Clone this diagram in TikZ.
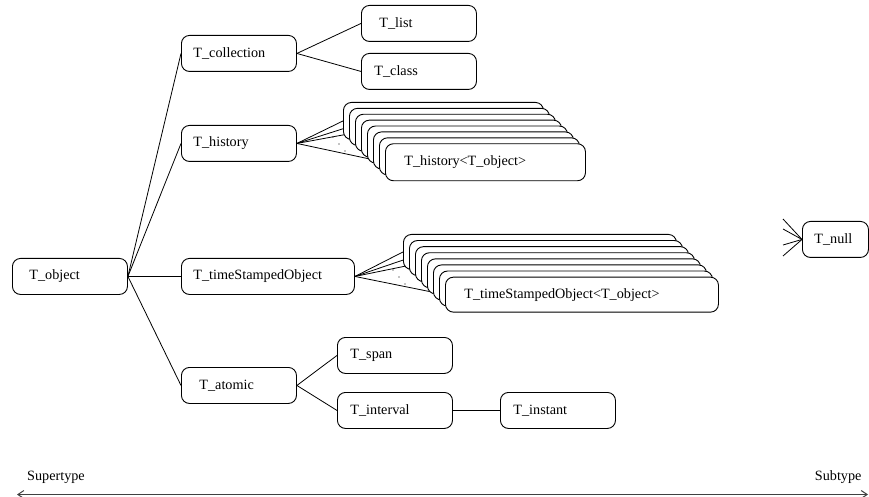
\documentclass[tikz,border=0pt]{standalone}
\usepackage{fontspec}
\setmainfont{Liberation Serif}
\usetikzlibrary{arrows.meta, backgrounds}

\begin{document}
\begin{tikzpicture}[
                x=1bp, y=-1bp,
                font=\fontsize{14.2bp}{17bp}\selectfont,
                typebox/.style 2 args={rectangle, draw=black, fill=white, rounded corners=8bp, anchor=north west, minimum height=36bp, align=left, text width=#1bp, inner xsep=#2bp, line width=0.9bp},
                link/.style={line width=0.8bp},
                typescale/.style={{Straight Barb[length=6bp, width=8bp]}-{Straight Barb[length=6bp, width=8bp]}, line width=1bp, black!75}
                ]
                \useasboundingbox (0,0) rectangle (869,497);

                % Types - left to right
                \node[typebox={81}{17}] (object) at (12,258) {T\_object};
                \node[typebox={91}{12}] (collection) at (181,35) {T\_collection};
                \node[typebox={79}{18}] (list) at (361,5) {T\_list};
                \node[typebox={89}{13}] (class) at (361,53) {T\_class};
                \node[typebox={91}{12}] (history) at (181,125) {T\_history};
                \node[typebox={149}{12}] (stamped) at (181,258) {T\_timeStampedObject};
                \node[typebox={79}{18}] (atomic) at (181,367) {T\_atomic};
                \node[typebox={89}{13}] (span) at (337,337) {T\_span};
                \node[typebox={89}{13}] (interval) at (337,392) {T\_interval};
                \node[typebox={89}{13}] (instant) at (500,392) {T\_instant};
                \node[typebox={42}{12}] (null) at (802,221) {T\_null};

                % Stacked instances
                \foreach \i in {1,...,7}
                    \node[typebox={162}{19}, minimum height=37bp] (hist\i) at ({343+6*(\i-1)},{102+5.9*(\i-1)}) {};
                \node[typebox={162}{19}, minimum height=37bp] (hist8) at (385,143.3) {T\_history<T\_object>};
                \foreach \i in {1,...,7}
                    \node[typebox={235}{19}, minimum height=35bp] (stamp\i) at ({403+6*(\i-1)},{234+6.1*(\i-1)}) {};
                \node[typebox={235}{19}, minimum height=35bp] (stamp8) at (445,276.7) {T\_timeStampedObject<T\_object>};

                % Links
                \begin{scope}[on background layer]
                \foreach \t in {collection, history, stamped, atomic}
                    \draw[link] (object.east) -- (\t.west);
                \draw[link] (collection.east) -- (list.west);
                \draw[link] (collection.east) -- (class.west);
                \draw[link] (atomic.east) -- (span.west);
                \draw[link] (atomic.east) -- (interval.west);
                \draw[link] (interval.east) -- (instant.west);
                \foreach \i in {1,2,3,8} {
                    \draw[link] (history.east) -- (hist\i.west);
                    \draw[link] (stamped.east) -- (stamp\i.west);
                }
                \end{scope}
                \foreach \p in {(333,137), (339,144), (345,151), (393,270), (399,277), (405,284)}
                    \fill \p circle (0.7bp);

                % Fan into T_null
                \coordinate (fan1) at (783,219);
                \coordinate (fan2) at (783,229);
                \coordinate (fan3) at (783,245);
                \coordinate (fan4) at (783,256);
                \foreach \c in {fan1, fan2, fan3, fan4}
                    \draw[link] (\c) -- (null.west);

                % Scale
                \node (super) at (56,477) {Supertype};
                \node[anchor=east] (sub) at (865,477) {Subtype};
                \coordinate (lend) at (17,494.5);
                \coordinate (rend) at (868,494.5);
                \draw[typescale] (lend) -- (rend);

                \end{tikzpicture}
\end{document}
